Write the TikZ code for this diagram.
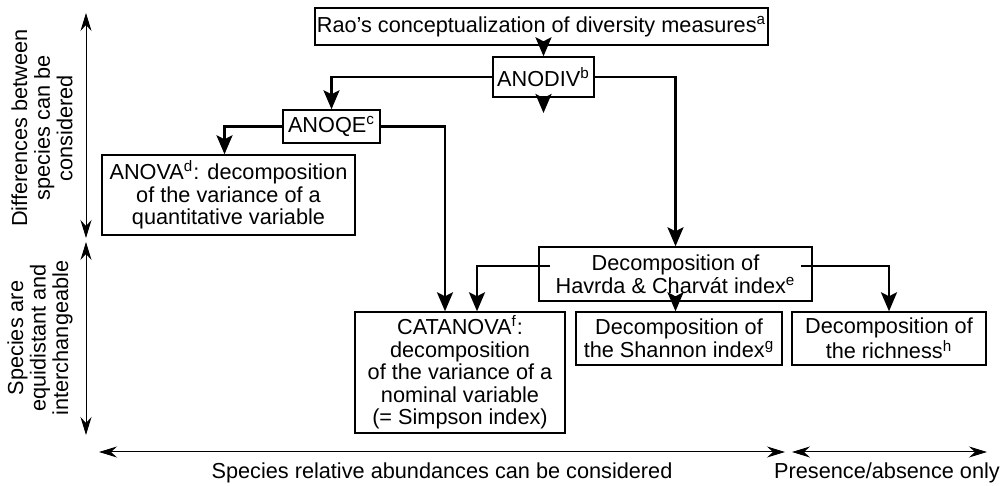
\documentclass[tikz,border=0pt]{standalone}
\usepackage{fontspec}
\setmainfont{Liberation Sans}
\usetikzlibrary{arrows.meta}
\begin{document}
\begin{tikzpicture}[x=0.5pt,y=-0.5pt,
  every node/.style={font=\fontsize{10.85}{11.3}\selectfont},
  box/.style={draw,line width=0.7pt,inner sep=0pt,align=center},
  conn/.style={line width=1.3pt,-{Stealth[length=9.5pt,width=8pt,inset=2pt]}},
  axis/.style={line width=0.5pt,{Stealth[length=9pt,width=5.5pt,inset=3pt]}-{Stealth[length=9pt,width=5.5pt,inset=3pt]}},
  lab/.style={align=center,inner sep=0pt}]
\useasboundingbox (0,0) rectangle (1003,486);
% boxes
\node[box,minimum width=226.5pt,minimum height=18.5pt] (rao) at (541.5,26.5) {Rao's conceptualization of diversity measures\textsuperscript{a}};
\node[box,minimum width=50.5pt,minimum height=20pt] (anodiv) at (543.5,77) {ANODIV\textsuperscript{b}};
\node[box,minimum width=48.5pt,minimum height=16.5pt] (anoqe) at (331.5,126.5) {ANOQE\textsuperscript{c}};
\node[box,minimum width=126.5pt,minimum height=40pt] (anova) at (228.5,195) {ANOVA\textsuperscript{d}: decomposition\\of the variance of a\\quantitative variable};
\node[box,minimum width=105pt,minimum height=60.5pt] (cat) at (460,372.5) {CATANOVA\textsuperscript{f}:\\decomposition\\of the variance of a\\nominal variable\\(= Simpson index)};
\node[box,minimum width=136.5pt,minimum height=27pt] (hav) at (675.5,274) {Decomposition of\\Havrda \& Charvát index\textsuperscript{e}};
\node[box,minimum width=103pt,minimum height=26.5pt] (sha) at (679,338.5) {Decomposition of\\the Shannon index\textsuperscript{g}};
\node[box,minimum width=97pt,minimum height=26.5pt] (rich) at (889,338.5) {Decomposition of\\the richness\textsuperscript{h}};
% connectors
\coordinate (stub) at (543.5,113);
\coordinate (havL) at (550,266);
\coordinate (havR) at (801,266);
\draw[conn] (anodiv.north |- rao.south) -- (anodiv.north);
\draw[conn] (anodiv.south) -- (stub);
\draw[conn] (anodiv.west) -| (anoqe.north);
\draw[conn] (anodiv.east) -| (hav.north);
\draw[conn] (anoqe.west) -| ([shift={(-4,0)}]anova.north);
\draw[conn] (anoqe.east) -| ([shift={(-15,0)}]cat.north);
\draw[conn] (havL) -| ([shift={(17,0)}]cat.north);
\draw[conn] (havR) -| (rich.north);
\draw[conn] (hav.south) -- (hav.south |- sha.north);
% axes
\coordinate (v1) at (86,13); \coordinate (v2) at (86,238);
\coordinate (v3) at (86,242); \coordinate (v4) at (86,435);
\coordinate (h1) at (99,452); \coordinate (h2) at (785,452);
\coordinate (h3) at (792,452); \coordinate (h4) at (987,452);
\draw[axis] (v1) -- (v2);
\draw[axis] (v3) -- (v4);
\draw[axis] (h1) -- (h2);
\draw[axis] (h3) -- (h4);
\node[lab,rotate=90] (ldiff) at (42,128) {Differences between\\species can be\\considered};
\node[lab,rotate=90] (lequi) at (40,338) {Species are\\equidistant and\\interchangeable};
\node[lab] (labund) at (442,473) {Species relative abundances can be considered};
\node[lab] (lpres) at (887,473) {Presence/absence only};
\end{tikzpicture}
\end{document}
